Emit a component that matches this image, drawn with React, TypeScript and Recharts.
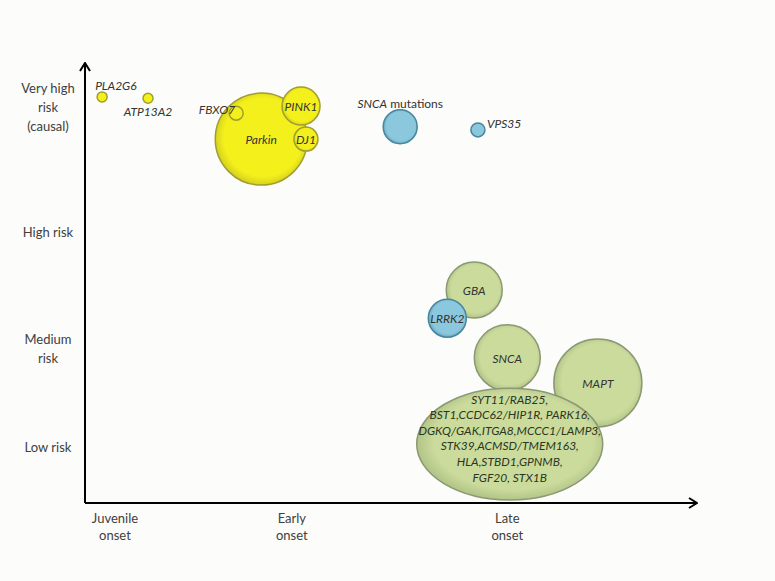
import React from "react";
import { ScatterChart, Scatter, XAxis, YAxis, ZAxis } from "recharts";

// x = age at onset (0..100 along the arrow), y = risk (0..100)
const onsetTicks = [4.9, 33.8, 69.0];
const onsetLabels = ["Juvenile\nonset", "Early\nonset", "Late\nonset"];
const riskTicks = [12.7, 35.2, 61.6, 90.0];
const riskLabels = ["Low risk", "Medium\nrisk", "High risk", "Very high\nrisk\n(causal)"];

// recessive / early genes (yellow)
const yellowGenes = ["PLA2G6", "ATP13A2", "Parkin", "FBXO7", "PINK1", "DJ1"];
const yellowOnset = [2.8, 10.3, 28.8, 24.7, 35.3, 36.1];
const yellowRisk = [92.3, 92.0, 82.7, 88.6, 90.2, 82.7];
const yellowWeight = [25, 25, 2116, 49, 361, 144];

// risk-modifying variants (green)
const greenGenes = ["GBA", "SNCA", "MAPT"];
const greenOnset = [63.6, 69.0, 83.8];
const greenRisk = [48.4, 33.0, 27.3];
const greenWeight = [784, 1089, 1936];

// dominant genes (blue)
const blueGenes = ["SNCA mutations", "VPS35", "LRRK2"];
const blueOnset = [51.5, 64.2, 59.2];
const blueRisk = [85.5, 84.8, 42.0];
const blueWeight = [289, 49, 361];

// GWAS loci grouped in one ellipse
const gwasLines = [
  "SYT11/RAB25,",
  "BST1,CCDC62/HIP1R, PARK16,",
  "DGKQ/GAK,ITGA8,MCCC1/LAMP3,",
  "STK39,ACMSD/TMEM163,",
  "HLA,STBD1,GPNMB,",
  "FGF20, STX1B",
];
const gwasOnset = 69.4;
const gwasRisk = 13.4;
const gwasWeight = 5200;

const points = (genes: string[], onset: number[], risk: number[], weight: number[]) =>
  genes.map((gene, i) => ({ gene, onset: onset[i], risk: risk[i], weight: weight[i] }));

const FONT = "Lato, 'Open Sans', sans-serif";

// where the outside labels sit relative to their bubble
const labelSpots: Record<string, { dx: number; dy: number; anchor: string }> = {
  PLA2G6: { dx: -7, dy: -12, anchor: "start" },
  ATP13A2: { dx: 0, dy: 13, anchor: "middle" },
  FBXO7: { dx: -1, dy: -4, anchor: "end" },
  "SNCA mutations": { dx: 0, dy: -24, anchor: "middle" },
  VPS35: { dx: 9, dy: -7, anchor: "start" },
};

const makeBubble = (fill: string, stroke: string) => (props: any) => {
  const { cx, cy, payload } = props;
  const r = props.width ? props.width / 2 : Math.sqrt(props.size / Math.PI);
  const spot = labelSpots[payload.gene] || { dx: 0, dy: 0, anchor: "middle" };
  const isMut = payload.gene === "SNCA mutations";
  return (
    <g>
      <circle cx={cx} cy={cy} r={r} fill={fill} stroke={stroke} strokeWidth={1.5} />
      <text
        x={cx + spot.dx}
        y={cy + spot.dy}
        textAnchor={spot.anchor as any}
        dominantBaseline="central"
        fontFamily={FONT}
        fontSize={12}
        fill="#333"
      >
        {isMut ? (
          <>
            <tspan fontStyle="italic">SNCA</tspan>
            <tspan> mutations</tspan>
          </>
        ) : (
          <tspan fontStyle="italic">{payload.gene}</tspan>
        )}
      </text>
    </g>
  );
};

const EllipseShape = (props: any) => {
  const { cx, cy } = props;
  const r = props.width ? props.width / 2 : Math.sqrt(props.size / Math.PI);
  const stretch = 1.29;
  const lineH = 15.6;
  const top = cy - 6 - ((gwasLines.length - 1) * lineH) / 2;
  return (
    <g>
      <ellipse cx={cx} cy={cy} rx={r * stretch} ry={r / stretch} fill="url(#shadeGreen)" stroke="#8a9873" strokeWidth={1.5} />
      <text textAnchor="middle" fontFamily={FONT} fontSize={12} fontStyle="italic" fill="#2c361f">
        {gwasLines.map((line, i) => (
          <tspan key={i} x={cx} y={top + i * lineH} dominantBaseline="central">
            {line}
          </tspan>
        ))}
      </text>
    </g>
  );
};

const XTick = (props: any) => {
  const { x, y, payload } = props;
  const lines = onsetLabels[onsetTicks.indexOf(payload.value)].split("\n");
  return (
    <text textAnchor="middle" fontFamily={FONT} fontSize={13} fill="#404040">
      {lines.map((l, i) => (
        <tspan key={i} x={x} y={y + 15 + i * 17} dominantBaseline="central">
          {l}
        </tspan>
      ))}
    </text>
  );
};

const YTick = (props: any) => {
  const { x, y, payload } = props;
  const lines = riskLabels[riskTicks.indexOf(payload.value)].split("\n");
  const start = y - ((lines.length - 1) * 19) / 2;
  return (
    <text textAnchor="middle" fontFamily={FONT} fontSize={13} fill="#404040">
      {lines.map((l, i) => (
        <tspan key={i} x={x - 37} y={start + i * 19} dominantBaseline="central">
          {l}
        </tspan>
      ))}
    </text>
  );
};

const Shade = ({ id, base, rim }: { id: string; base: string; rim: string }) => (
  <radialGradient id={id} cx="52%" cy="48%" r="52%">
    <stop offset="0%" stopColor={base} />
    <stop offset="82%" stopColor={base} />
    <stop offset="100%" stopColor={rim} />
  </radialGradient>
);

export default function App() {
  return (
    <div style={{ position: "absolute", left: 0, top: 0, width: 775, height: 581, background: "#fcfcfa" }}>
      <svg width={0} height={0} style={{ position: "absolute" }}>
        <defs>
          <marker
            id="axisArrow"
            viewBox="0 0 10 12"
            refX={9}
            refY={6}
            markerWidth={10}
            markerHeight={12}
            markerUnits="userSpaceOnUse"
            orient="auto-start-reverse"
          >
            <path d="M1,1 L9,6 L1,11" fill="none" stroke="#000" strokeWidth={2} />
          </marker>
          <Shade id="shadeYellow" base="#f4f01c" rim="#d6d21c" />
          <Shade id="shadeBlue" base="#8cc8dd" rim="#6aaac2" />
          <Shade id="shadeGreen" base="#cadb9c" rim="#b3c488" />
        </defs>
      </svg>
      <ScatterChart width={775} height={581} margin={{ top: 63, right: 78, bottom: 18, left: 0 }}>
        <XAxis
          type="number"
          dataKey="onset"
          domain={[0, 100]}
          ticks={onsetTicks}
          interval={0}
          tick={<XTick />}
          tickLine={false}
          tickSize={0}
          tickMargin={0}
          height={60}
          axisLine={{ stroke: "#000", strokeWidth: 2, markerEnd: "url(#axisArrow)" }}
        />
        <YAxis
          type="number"
          dataKey="risk"
          domain={[0, 100]}
          ticks={riskTicks}
          interval={0}
          tick={<YTick />}
          tickLine={false}
          tickSize={0}
          tickMargin={0}
          width={85}
          axisLine={{ stroke: "#000", strokeWidth: 2, markerStart: "url(#axisArrow)" }}
        />
        <ZAxis type="number" dataKey="weight" domain={[0, 6000]} range={[0, 6000 * Math.PI]} />
        <Scatter
          data={points(yellowGenes, yellowOnset, yellowRisk, yellowWeight)}
          shape={makeBubble("url(#shadeYellow)", "#a19e30")}
          isAnimationActive={false}
        />
        <Scatter
          data={points(greenGenes, greenOnset, greenRisk, greenWeight)}
          shape={makeBubble("url(#shadeGreen)", "#8a9873")}
          isAnimationActive={false}
        />
        <Scatter
          data={points(blueGenes, blueOnset, blueRisk, blueWeight)}
          shape={makeBubble("url(#shadeBlue)", "#47869e")}
          isAnimationActive={false}
        />
        <Scatter
          data={[{ gene: "GWAS", onset: gwasOnset, risk: gwasRisk, weight: gwasWeight }]}
          shape={EllipseShape}
          isAnimationActive={false}
        />
      </ScatterChart>
    </div>
  );
}
